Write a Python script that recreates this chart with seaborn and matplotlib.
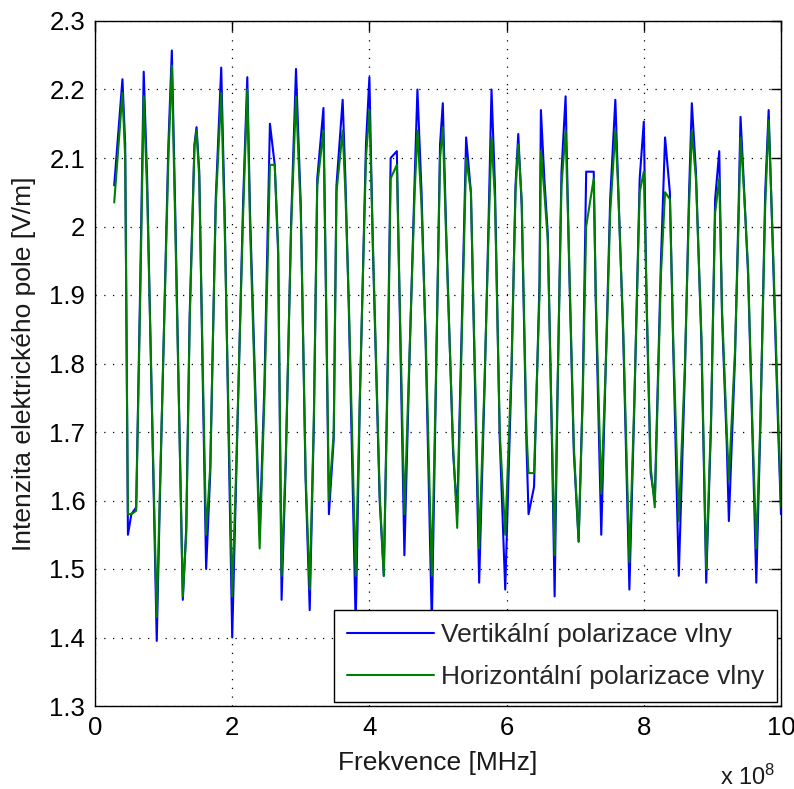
import matplotlib
matplotlib.use("Agg")
import matplotlib.pyplot as plt
import numpy as np
import pandas as pd
import seaborn as sns
from matplotlib.ticker import FixedLocator, FuncFormatter

# frequency in units of 1e8 Hz
freq = [0.28, 0.40, 0.44, 0.48, 0.53, 0.60, 0.66, 0.71, 0.76, 0.85, 0.90, 0.95,
        1.07, 1.12, 1.17, 1.28, 1.33, 1.38, 1.45, 1.48, 1.52, 1.57, 1.62, 1.68,
        1.76, 1.84, 1.89, 2.00, 2.05, 2.16, 2.22, 2.26, 2.40, 2.47, 2.55, 2.62,
        2.67, 2.72, 2.78, 2.86, 2.93, 3.00, 3.07, 3.13, 3.19, 3.24, 3.33, 3.37,
        3.41, 3.48, 3.52, 3.61, 3.65, 3.70, 3.80, 3.86, 3.95, 4.00, 4.05, 4.15,
        4.21, 4.27, 4.31, 4.40, 4.44, 4.51, 4.58, 4.66, 4.70, 4.76, 4.82, 4.91,
        4.97, 5.03, 5.07, 5.12, 5.22, 5.28, 5.35, 5.41, 5.48, 5.52, 5.60, 5.68,
        5.74, 5.78, 5.83, 5.90, 5.98, 6.07, 6.13, 6.17, 6.22, 6.29, 6.32, 6.40,
        6.48, 6.50, 6.55, 6.60, 6.66, 6.70, 6.74, 6.80, 6.86, 6.91, 6.98, 7.05,
        7.11, 7.16, 7.27, 7.30, 7.38, 7.46, 7.51, 7.585, 7.62, 7.70, 7.79, 7.86,
        7.94, 8.00, 8.04, 8.10, 8.16, 8.25, 8.31, 8.38, 8.43, 8.51, 8.60, 8.66,
        8.70, 8.76, 8.84, 8.91, 8.98, 9.04, 9.10, 9.14, 9.21, 9.24, 9.33, 9.38,
        9.41, 9.45, 9.52, 9.58, 9.64, 9.70, 9.77, 9.82, 9.88, 9.96, 10.00]

vertical = [2.06, 2.215, 2.12, 1.55, 1.58, 1.59, 1.92, 2.226, 2.07, 1.64, 1.395, 1.62,
            2.12, 2.257, 2.02, 1.455, 1.56, 1.87, 2.12, 2.145, 2.08, 1.78, 1.50, 1.64,
            2.04, 2.232, 2.02, 1.40, 1.60, 2.04, 2.218, 2.02, 1.55, 1.77, 2.15, 2.09,
            1.96, 1.455, 1.65, 2.01, 2.23, 2.03, 1.63, 1.44, 1.71, 2.07, 2.173, 1.88,
            1.58, 1.69, 2.06, 2.185, 2.07, 1.88, 1.42, 1.74, 2.12, 2.218, 1.97, 1.60,
            1.49, 1.82, 2.10, 2.11, 1.89, 1.52, 1.79, 2.07, 2.20, 2.05, 1.83, 1.42,
            1.77, 2.12, 2.18, 1.99, 1.67, 1.58, 1.87, 2.13, 2.05, 1.86, 1.48, 1.77,
            2.02, 2.20, 2.06, 1.69, 1.47, 1.78, 2.06, 2.135, 2.03, 1.68, 1.58, 1.62,
            1.92, 2.17, 2.07, 1.99, 1.69, 1.46, 1.74, 2.08, 2.19, 1.95, 1.67, 1.54,
            1.76, 2.08, 2.08, 1.89, 1.55, 1.85, 2.04, 2.185, 2.08, 1.84, 1.47, 1.73,
            2.07, 2.153, 1.89, 1.64, 1.60, 1.95, 2.13, 2.05, 1.82, 1.49, 1.79, 2.05,
            2.18, 2.08, 1.83, 1.48, 1.71, 2.04, 2.11, 1.87, 1.68, 1.57, 1.81, 2.02,
            2.16, 2.08, 1.93, 1.71, 1.48, 1.71, 2.05, 2.17, 1.97, 1.70, 1.58]

horizontal = [2.035, 2.195, 2.10, 1.58, 1.58, 1.585, 1.90, 2.19, 2.05, 1.65, 1.43, 1.63,
              2.10, 2.235, 2.00, 1.46, 1.55, 1.86, 2.117, 2.14, 2.07, 1.80, 1.55, 1.65,
              2.03, 2.195, 2.00, 1.46, 1.62, 2.02, 2.20, 2.00, 1.53, 1.75, 2.09, 2.09,
              1.97, 1.49, 1.66, 2.00, 2.19, 2.02, 1.64, 1.47, 1.72, 2.06, 2.14, 1.89,
              1.60, 1.70, 2.05, 2.14, 2.05, 1.89, 1.49, 1.75, 2.10, 2.17, 1.98, 1.61,
              1.49, 1.80, 2.07, 2.09, 1.90, 1.58, 1.80, 2.05, 2.14, 2.03, 1.84, 1.49,
              1.78, 2.10, 2.145, 1.98, 1.68, 1.56, 1.85, 2.10, 2.05, 1.87, 1.53, 1.78,
              2.00, 2.13, 2.04, 1.70, 1.55, 1.79, 2.05, 2.12, 2.04, 1.70, 1.64, 1.64,
              1.90, 2.11, 2.05, 1.98, 1.70, 1.52, 1.75, 2.06, 2.14, 1.96, 1.68, 1.54,
              1.75, 2.00, 2.07, 1.90, 1.61, 1.84, 2.02, 2.14, 2.07, 1.85, 1.51, 1.74,
              2.05, 2.08, 1.90, 1.65, 1.59, 1.93, 2.05, 2.04, 1.83, 1.57, 1.80, 2.03,
              2.14, 2.07, 1.84, 1.50, 1.72, 2.02, 2.07, 1.88, 1.70, 1.63, 1.82, 2.00,
              2.13, 2.07, 1.94, 1.72, 1.53, 1.72, 2.03, 2.155, 1.98, 1.72, 1.59]

series_names = ["Vertikální polarizace vlny", "Horizontální polarizace vlny"]
series_colors = ["#0000ff", "#008000"]
x_ticks = [0, 2, 4, 6, 8, 10]
y_ticks = [1.3, 1.4, 1.5, 1.6, 1.7, 1.8, 1.9, 2.0, 2.1, 2.2, 2.3]
x_label = "Frekvence [MHz]"
y_label = "Intenzita elektrického pole [V/m]"
x_mult = "x 10$^8$"

sns.set_theme(style="white")
plt.rcParams['font.family'] = ['Liberation Sans', 'DejaVu Sans']
plt.rcParams['mathtext.fontset'] = 'custom'
plt.rcParams['mathtext.rm'] = 'Liberation Sans'
plt.rcParams['mathtext.it'] = 'Liberation Sans'

n = len(freq)
df = pd.DataFrame({
    "f": freq + freq,
    "E": vertical + horizontal,
    "s": [series_names[0]] * n + [series_names[1]] * n,
})

fig = plt.figure(figsize=(7.94, 7.89), dpi=100)
ax = fig.add_axes([95 / 794, (789 - 706) / 789, (781 - 95) / 794, (706 - 21) / 789])

sns.lineplot(data=df, x="f", y="E", hue="s", hue_order=series_names,
             palette=dict(zip(series_names, series_colors)),
             estimator=None, sort=False, linewidth=1.5, ax=ax)

ax.set_xlim(0, 10)
ax.set_ylim(1.3, 2.3)
ax.xaxis.set_major_locator(FixedLocator(x_ticks))
ax.yaxis.set_major_locator(FixedLocator(y_ticks))
ax.yaxis.set_major_formatter(FuncFormatter(lambda v, p: f"{v:g}"))
ax.xaxis.set_major_formatter(FuncFormatter(lambda v, p: f"{v:g}"))

ax.grid(True, color="black", linestyle=(0, (1, 6)), linewidth=0.9)
ax.tick_params(direction="in", length=7, width=1, top=True, right=True,
               labelsize=18.5, pad=7, colors="black")
for sp in ax.spines.values():
    sp.set_visible(True)
    sp.set_color("black")
    sp.set_linewidth(1.0)

ax.set_xlabel(x_label, fontsize=19, labelpad=8, color="#1a1a1a")
ax.set_ylabel(y_label, fontsize=19, labelpad=10, color="#1a1a1a")

handles, labels = ax.get_legend_handles_labels()
leg = ax.legend(handles, labels, loc="lower right", frameon=True, fancybox=False,
                edgecolor="black", framealpha=1, borderaxespad=0.15,
                handlelength=3.3, fontsize=19, labelspacing=0.68,
                borderpad=0.5, handletextpad=0.25)
leg.get_frame().set_linewidth(1.0)
for line in leg.get_lines():
    line.set_linewidth(1.5)

fig.text(775 / 794, 1 - 777 / 789, x_mult, fontsize=17, ha="right", va="center",
         color="#1a1a1a")

fig.savefig("out.png", dpi=100)
